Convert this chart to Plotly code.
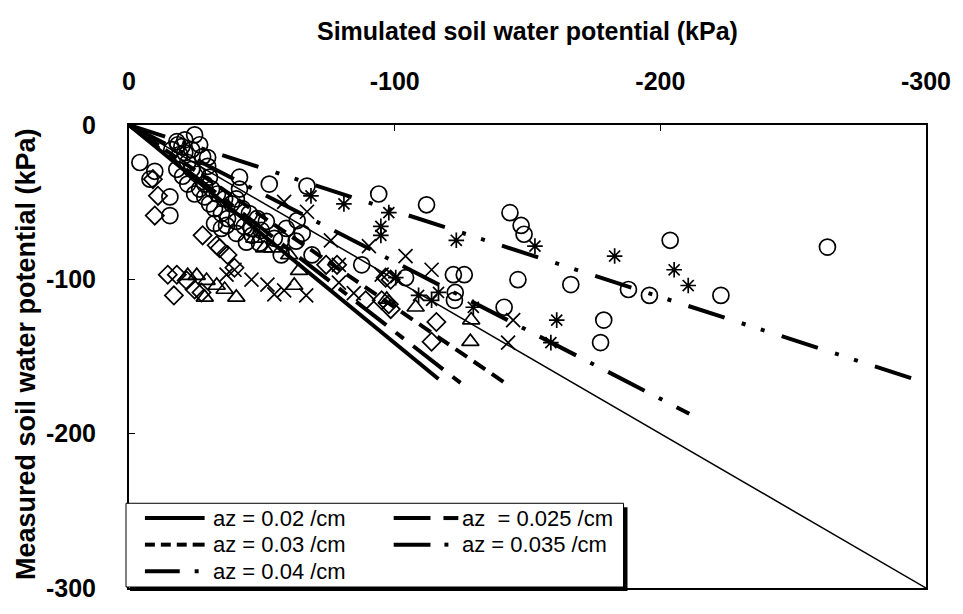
import plotly.graph_objects as go

# ---- observations: simulated (x) vs measured (y) soil water potential, kPa ----
circle_sim = [-112.0, -143.4, -147.6, -148.7, -203.7, -146.4, -166.3, -188.0, -195.9, -178.7,
              -122.1, -126.2, -122.8, -122.5, -141.2, -104.1, -94.0, -262.9, -222.8, -177.5,
              -4.1, -9.7, -7.9, -15.4, -15.4, -18.4, -21.0, -22.1, -27.7, -29.6,
              -20.2, -18.0, -26.6, -28.5, -30.3, -32.2, -34.8, -37.1, -40.4, -43.4,
              -46.1, -36.7, -40.4, -46.4, -41.6, -30.3, -52.8, -67.0, -63.3, -65.2,
              -57.3, -68.9, -87.6, -40.4, -41.6, -29.6, -19.1, -19.9, -18.0, -16.1,
              -51.7, -57.3, -62.9, -59.2, -21.0, -24.7, -26.6, -23.6,
              -23.6, -25.8, -28.5, -31.1, -33.3, -36.0, -38.6, -42.7, -45.3, -48.3,
              -32.2, -34.8, -44.2, -49.1, -54.7, -49.8, -22.1, -24.7]
circle_obs = [-51.7, -56.8, -65.1, -70.8, -74.7, -100.2, -103.4, -106.6, -110.4, -126.4,
              -97.0, -97.0, -108.5, -113.6, -118.1, -98.9, -44.7, -79.1, -110.4, -141.0,
              -24.3, -30.0, -35.1, -46.6, -58.7, -12.8, -17.9, -24.3, -20.4, -21.1,
              -33.2, -28.7, -41.5, -46.6, -51.1, -54.2, -57.4, -60.6, -62.5, -65.7,
              -67.0, -65.1, -70.2, -71.5, -33.8, -33.8, -38.3, -39.6, -61.9, -70.2,
              -84.2, -84.2, -90.6, -47.9, -41.5, -26.8, -19.1, -14.0, -10.8, -16.0,
              -62.5, -74.7, -75.3, -67.0, -9.6, -6.4, -12.8, -16.0,
              -28.7, -31.9, -38.3, -41.5, -44.7, -47.9, -51.1, -54.2, -57.4, -60.6,
              -63.8, -67.0, -75.9, -76.6, -73.4, -68.3, -38.3, -44.7]

star_sim = [-97.8, -123.2, -152.8, -182.8, -205.2, -210.5, -100.4, -116.5, -109.0,
            -113.9, -129.6, -161.0, -158.8, -68.5, -80.9, -94.8, -94.8]
star_obs = [-56.8, -74.7, -78.5, -84.9, -93.8, -104.0, -98.9, -108.5, -110.4,
            -113.6, -118.1, -126.4, -141.0, -45.9, -51.1, -65.7, -71.5]

cross_sim = [-104.1, -113.9, -144.6, -142.7, -58.4, -67.0, -76.0, -90.3, -52.1, -54.7,
             -58.4, -66.7, -79.0, -36.7, -39.7, -46.1, -84.6, -79.0, -95.1]
cross_obs = [-84.9, -93.8, -126.4, -141.0, -49.8, -56.2, -74.7, -78.5, -103.4, -109.8,
             -107.2, -110.4, -102.1, -97.0, -93.8, -100.2, -109.0, -90.6, -97.0]

diamond_sim = [-14.6, -18.0, -21.7, -24.7, -16.9, -27.3, -39.7, -37.1, -34.1, -27.7,
               -33.0, -9.7, -10.9, -9.0, -115.7, -113.9, -98.5, -89.1, -96.6, -95.1,
               -74.2, -78.3, -98.5, -97.8]
diamond_obs = [-97.0, -97.0, -100.8, -106.6, -110.4, -108.5, -92.5, -84.2, -79.8, -71.5,
               -77.9, -58.7, -45.9, -35.1, -127.6, -140.4, -119.3, -113.6, -98.9, -113.6,
               -90.6, -90.6, -100.2, -116.1]

triangle_sim = [-22.1, -25.5, -29.2, -33.0, -36.0, -28.5, -40.4, -62.2, -128.5, -128.8,
                -107.9, -97.0, -64.0, -60.3, -50.9, -47.2, -53.9]
triangle_obs = [-97.6, -97.6, -100.8, -104.0, -106.6, -111.7, -111.7, -104.0, -140.4, -126.4,
                -118.1, -113.0, -94.4, -84.2, -79.8, -73.4, -79.8]

# ---- fitted lines through the origin, one per az value ----
az_labels = ["az = 0.02 /cm", "az  = 0.025 /cm", "az = 0.03 /cm", "az = 0.035 /cm", "az = 0.04 /cm"]
fit_slope = [1.413, 1.339, 1.181, 0.887, 0.557]
fit_xend = [-116.5, -127.7, -142.7, -210.9, -300.0]

# 1:1 line
one_to_one = [0, -300]

# ticks
axis_ticks = [0, -100, -200, -300]

# ---- styles ----
FONT = "Arial, Liberation Sans, sans-serif"
dash_styles = ["solid", "38px,12px,10px,12px", "14px,8px", "41px,16px,4px,16px",
               "38px,18px,4px,16px,4px,18px"]

fig = go.Figure()

marker_groups = [
    (circle_sim, circle_obs, "circle-open", 16),
    (star_sim, star_obs, "asterisk-open", 13),
    (cross_sim, cross_obs, "x-thin-open", 14),
    (diamond_sim, diamond_obs, "diamond-open", 14),
    (triangle_sim, triangle_obs, "triangle-up-open", 15),
]
for xs, ys, sym, size in marker_groups:
    fig.add_trace(go.Scatter(
        x=xs, y=ys, mode="markers", showlegend=False, hoverinfo="skip",
        marker=dict(symbol=sym, size=size, color="black",
                    line=dict(color="black", width=1.7)),
    ))

fig.add_trace(go.Scatter(
    x=one_to_one, y=one_to_one, mode="lines", showlegend=False,
    line=dict(color="black", width=1.5),
))

for label, slope, xend, dash in zip(az_labels, fit_slope, fit_xend, dash_styles):
    fig.add_trace(go.Scatter(
        x=[0, xend], y=[0, slope * xend], mode="lines", name=label, showlegend=False,
        line=dict(color="black", width=4, dash=dash),
    ))

# ---- legend box (drawn with shapes + text so the dash samples read clearly) ----
L, R, T, B = 129, 930, 125, 595


def px(xp):
    return (xp - L) / (R - L)


def py(yp):
    return (B - yp) / (B - T)


shapes = [
    dict(type="rect", xref="paper", yref="paper", x0=px(130), x1=px(630), y0=py(513), y1=py(598),
         fillcolor="black", line=dict(width=0), layer="above"),
    dict(type="rect", xref="paper", yref="paper", x0=px(126), x1=px(626), y0=py(509), y1=py(594),
         fillcolor="white", line=dict(color="black", width=1), layer="above"),
]

# sample segments for each legend entry: list of (start, end) pixel x pieces
legend_rows = [
    (az_labels[0], 211, 524, [(145, 205)]),
    (az_labels[1], 462, 524, [(395, 432), (445, 460)]),
    (az_labels[2], 211, 551, [(145, 155), (161, 171), (177, 187), (193, 205)]),
    (az_labels[3], 462, 551, [(395, 432), (446, 450)]),
    (az_labels[4], 211, 578, [(145, 180), (195, 199)]),
]
annotations = []
for text, xtext, yrow, pieces in legend_rows:
    for a, b in pieces:
        shapes.append(dict(type="line", xref="paper", yref="paper", x0=px(a), x1=px(b),
                           y0=py(yrow), y1=py(yrow), line=dict(color="black", width=4),
                           layer="above"))
    annotations.append(dict(xref="paper", yref="paper", x=px(xtext),
                            y=py(yrow), text=text, showarrow=False, xanchor="left",
                            yanchor="middle", font=dict(family=FONT, size=22, color="black")))

# axis titles
annotations.append(dict(xref="paper", yref="paper", x=px(530), y=py(30),
                        text="Simulated soil water potential (kPa)", showarrow=False,
                        xanchor="center", yanchor="middle",
                        font=dict(family=FONT, size=25, color="black", weight="bold")))
annotations.append(dict(xref="paper", yref="paper", x=px(25), y=py(358),
                        text="Measured soil water potential (kPa)", showarrow=False,
                        textangle=-90, xanchor="center", yanchor="middle",
                        font=dict(family=FONT, size=27, color="black", weight="bold")))

axis_common = dict(
    tickvals=axis_ticks, ticktext=[str(v) for v in axis_ticks],
    ticks="inside", ticklen=6, tickwidth=1, tickcolor="black",
    showline=True, linecolor="black", linewidth=2, mirror=True,
    showgrid=False, zeroline=False,
    tickfont=dict(family=FONT, size=25, color="black", weight="bold"),
)

fig.update_layout(
    width=963, height=614,
    margin=dict(l=L, r=963 - R, t=T, b=614 - B),
    paper_bgcolor="white", plot_bgcolor="white",
    xaxis=dict(range=[0, -300], side="top", ticklabelstandoff=23, **axis_common),
    yaxis=dict(range=[-300, 0], ticklabelstandoff=26, **axis_common),
    shapes=shapes, annotations=annotations,
    showlegend=False,
)

fig.write_html("out.html")
